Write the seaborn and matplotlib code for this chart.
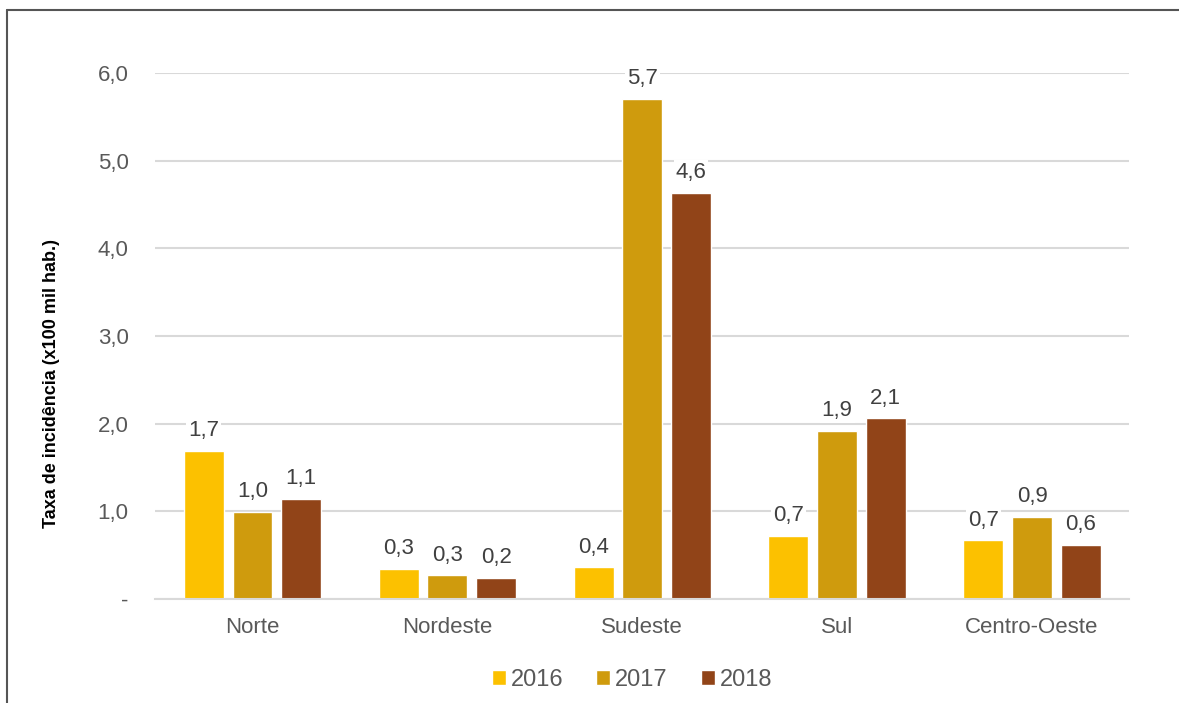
import matplotlib
matplotlib.use("Agg")
import matplotlib.pyplot as plt
from matplotlib.lines import Line2D
import seaborn as sns
import pandas as pd

regioes = ["Norte", "Nordeste", "Sudeste", "Sul", "Centro-Oeste"]
anos = ["2016", "2017", "2018"]
taxa_2016 = [1.69, 0.34, 0.36, 0.72, 0.67]
taxa_2017 = [0.99, 0.27, 5.71, 1.92, 0.94]
taxa_2018 = [1.14, 0.24, 4.63, 2.06, 0.62]
y_ticks = [0, 1, 2, 3, 4, 5, 6]
y_tick_labels = ["-", "1,0", "2,0", "3,0", "4,0", "5,0", "6,0"]
cores = ["#FCC100", "#CF9B0D", "#914418"]

df = pd.DataFrame({
    "Região": regioes * 3,
    "Ano": [a for a in anos for _ in regioes],
    "Taxa": taxa_2016 + taxa_2017 + taxa_2018,
})

sns.set_theme(style="white")
plt.rcParams["font.family"] = ["Liberation Sans", "DejaVu Sans"]

fig = plt.figure(figsize=(11.79, 7.03), dpi=100)
ax = fig.add_axes([0.1315, 0.148, 0.8265, 0.748])

sns.barplot(data=df, x="Região", y="Taxa", hue="Ano", order=regioes,
            hue_order=anos, palette=cores, width=0.75, gap=0.18,
            saturation=1, ax=ax, legend=True)

ax.set_xlim(-0.5, 4.5)
ax.set_ylim(0, 6)
ax.set_yticks(y_ticks)
ax.set_yticklabels(y_tick_labels)
ax.yaxis.grid(True, color="#D9D9D9", linewidth=1.5)
ax.set_axisbelow(True)
for s in ["top", "right", "left"]:
    ax.spines[s].set_visible(False)
ax.spines["bottom"].set_color("#D9D9D9")
ax.spines["bottom"].set_linewidth(1.5)
ax.tick_params(axis="both", length=0, labelsize=16, labelcolor="#595959")
ax.tick_params(axis="y", pad=19)
ax.tick_params(axis="x", pad=13)
ax.set_xlabel("")
ax.set_ylabel("Taxa de incidência (x100 mil hab.)", fontsize=13,
              fontweight="bold", color="black")
ax.yaxis.set_label_coords(-0.098, 0.41)

for cont in ax.containers:
    labels = [f"{v:.1f}".replace(".", ",") for v in cont.datavalues]
    txts = ax.bar_label(cont, labels=labels, padding=7, fontsize=16,
                        color="#404040")
    for t in txts:
        t.set_bbox(dict(facecolor="white", edgecolor="none", pad=1.5))

handles, lbls = ax.get_legend_handles_labels()
ax.get_legend().remove()
fig.legend(handles, lbls, loc="center", bbox_to_anchor=(0.536, 0.033),
           ncol=3, frameon=False, fontsize=17, handlelength=0.6,
           handleheight=0.6, handletextpad=0.2, columnspacing=1.4,
           labelcolor="#595959")

# outer frame along the top and left edges
fig.add_artist(Line2D([7 / 1179, 1.0], [1 - 10 / 703, 1 - 10 / 703],
                      transform=fig.transFigure, color="#555555", lw=1.5))
fig.add_artist(Line2D([7 / 1179, 7 / 1179], [0.0, 1 - 10 / 703],
                      transform=fig.transFigure, color="#555555", lw=1.5))

fig.savefig("out.png", dpi=100, facecolor="white")
